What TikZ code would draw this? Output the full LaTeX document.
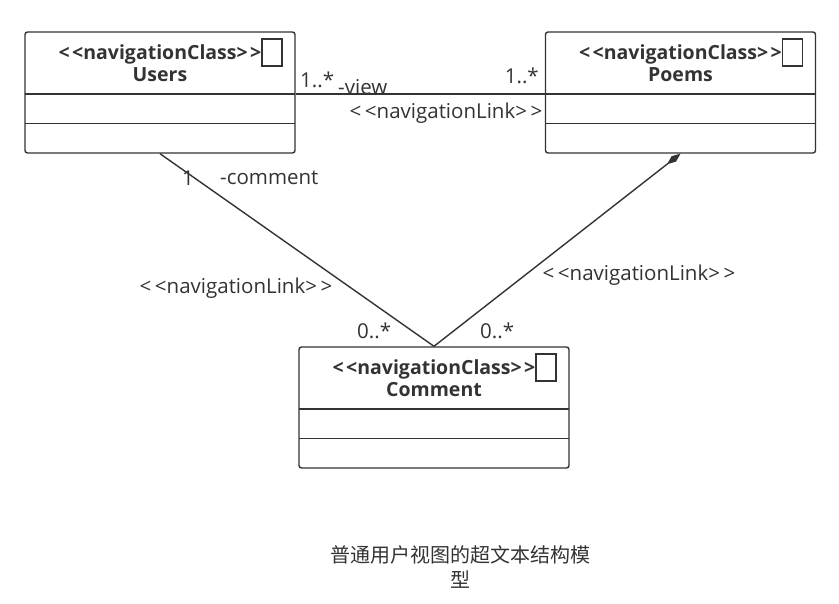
\documentclass[tikz,border=0pt]{standalone}
\usepackage{fontspec}
\setmainfont{Open Sans}
\newfontfamily\cjk{Noto Sans CJK SC}
\usetikzlibrary{arrows.meta}
\definecolor{ink}{HTML}{333333}
\tikzset{
  cls/.style={draw=ink, line width=1.4pt, rounded corners=2.5pt, minimum width=270pt, minimum height=121pt, inner sep=0pt},
  icon/.style={draw=ink, line width=1.2pt, minimum width=20pt, minimum height=27pt, inner sep=0pt},
  hdr/.style={text=ink, font=\fontsize{19.5}{22}\selectfont\bfseries, align=center, inner sep=0pt},
  lbl/.style={text=ink, font=\fontsize{20.5}{22}\selectfont, inner sep=0pt},
  conn/.style={draw=ink, line width=1.4pt},
  div/.style={draw=ink, line width=1.4pt}
}
\newcommand{\llt}{<\kern2.5pt<}
\newcommand{\ggt}{>\kern2.5pt>}
\newcommand{\lll}{<\kern3.5pt<}
\newcommand{\ggg}{>\kern3.5pt>}
\begin{document}
\begin{tikzpicture}[x=1pt,y=-1pt]
\useasboundingbox (0,0) rectangle (839,604);
% Users
\node[cls] (Users) at (160,92.5) {};
\node[hdr] (usersT) at (160,63) {\llt navigationClass\ggt\\Users};
\node[icon] (usersI) at (272,52.5) {};
\draw[div] (25,94) coordinate (ud1) -- (295,94);
\draw[div] (25,123.5) -- (295,123.5);
% Poems
\node[cls] (Poems) at (680.5,92.5) {};
\node[hdr] (poemsT) at (680.5,63) {\llt navigationClass\ggt\\Poems};
\node[icon] (poemsI) at (792.5,52.5) {};
\draw[div] (545.5,94) -- (815.5,94);
\draw[div] (545.5,123.5) -- (815.5,123.5);
% Comment
\node[cls] (Comment) at (434,407.5) {};
\node[hdr] (commT) at (434,378) {\llt navigationClass\ggt\\Comment};
\node[icon] (commI) at (546,367.5) {};
\draw[div] (299,409) -- (569,409);
\draw[div] (299,438.5) -- (569,438.5);
% connectors
\draw[conn] (Users.east |- ud1) -- (Poems.west |- ud1);
\draw[conn] (Users.south) -- (Comment.north);
\draw[conn, -{Diamond[length=17pt,width=7pt,fill=ink]}] (Comment.north) -- (Poems.south);
% labels
\node[lbl, anchor=west] (l1) at (300,80) {1..*};
\node[lbl, anchor=west] (l2) at (338,87) {-view};
\node[lbl, anchor=east] (l3) at (539,76) {1..*};
\node[lbl] (l4) at (446,113) {\lll navigationLink\ggg};
\node[lbl, anchor=west] (l5) at (182,178) {1};
\node[lbl, anchor=west] (l6) at (220,178) {-comment};
\node[lbl] (l7) at (236,288) {\lll navigationLink\ggg};
\node[lbl, anchor=west] (l8) at (357,331) {0..*};
\node[lbl] (l9) at (639,275) {\lll navigationLink\ggg};
\node[lbl, anchor=west] (l10) at (480,331) {0..*};
\node[text=ink, font=\cjk\fontsize{20}{25}\selectfont, align=center, inner sep=0pt] (cap) at (460,567) {普通用户视图的超文本结构模\\型};
\end{tikzpicture}
\end{document}
